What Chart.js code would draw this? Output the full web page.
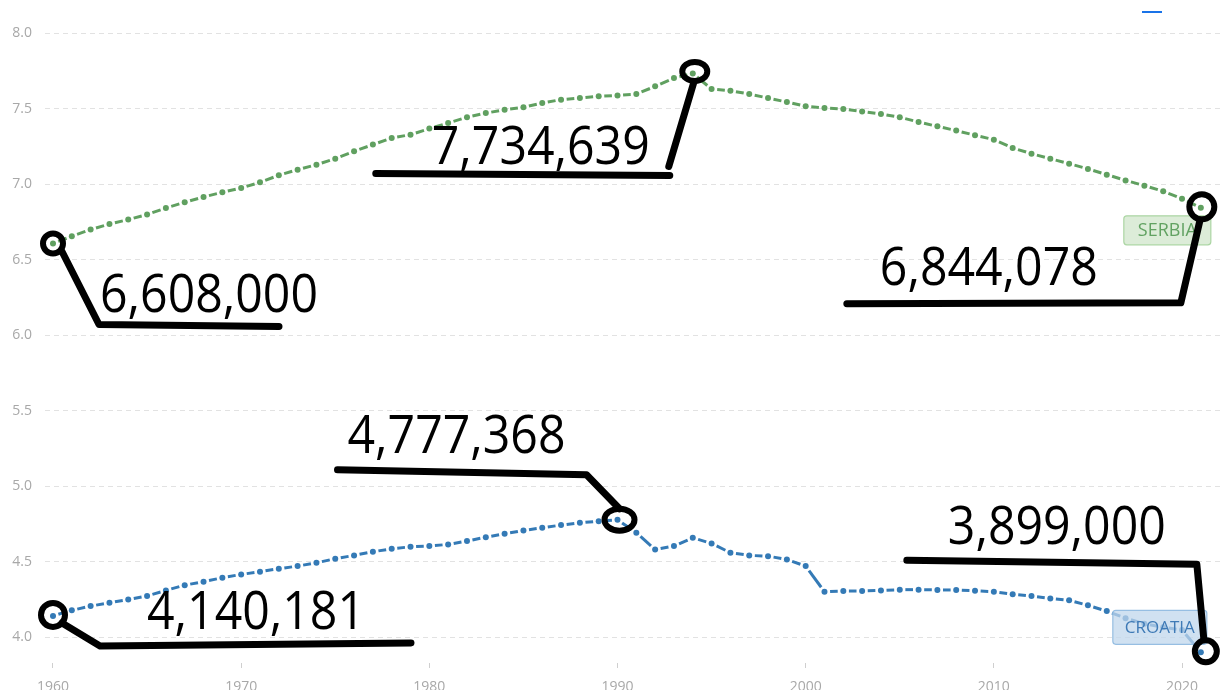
<!DOCTYPE html>
<html>
<head>
<meta charset="utf-8">
<script src="https://cdn.jsdelivr.net/npm/chart.js@4.4.0/dist/chart.umd.min.js"></script>
<style>
  html, body { margin: 0; padding: 0; background: #fff; }
  canvas { display: block; }
</style>
</head>
<body>
<canvas id="popChart" width="1223" height="690"></canvas>
<script>
// Population in millions, 1960-2021
const years = [
  1960, 1961, 1962, 1963, 1964, 1965, 1966, 1967, 1968, 1969,
  1970, 1971, 1972, 1973, 1974, 1975, 1976, 1977, 1978, 1979,
  1980, 1981, 1982, 1983, 1984, 1985, 1986, 1987, 1988, 1989,
  1990, 1991, 1992, 1993, 1994, 1995, 1996, 1997, 1998, 1999,
  2000, 2001, 2002, 2003, 2004, 2005, 2006, 2007, 2008, 2009,
  2010, 2011, 2012, 2013, 2014, 2015, 2016, 2017, 2018, 2019,
  2020, 2021
];

const serbia = [
  6.608, 6.656, 6.700, 6.737, 6.766, 6.800, 6.843, 6.881, 6.916, 6.947,
  6.976, 7.013, 7.060, 7.097, 7.130, 7.170, 7.219, 7.263, 7.307, 7.329,
  7.369, 7.406, 7.444, 7.472, 7.494, 7.510, 7.539, 7.561, 7.572, 7.583,
  7.589, 7.598, 7.649, 7.704, 7.734639, 7.631, 7.620, 7.598, 7.572, 7.545,
  7.517, 7.506, 7.499, 7.483, 7.466, 7.444, 7.413, 7.384, 7.356, 7.325,
  7.296, 7.241, 7.203, 7.170, 7.137, 7.102, 7.064, 7.026, 6.991, 6.954,
  6.905, 6.844078
];

const croatia = [
  4.140181, 4.177, 4.205, 4.227, 4.249, 4.272, 4.309, 4.344, 4.367, 4.393,
  4.415, 4.433, 4.453, 4.470, 4.492, 4.519, 4.541, 4.565, 4.585, 4.598,
  4.603, 4.614, 4.636, 4.662, 4.684, 4.706, 4.724, 4.742, 4.757, 4.768,
  4.777368, 4.691, 4.580, 4.603, 4.658, 4.620, 4.559, 4.541, 4.536, 4.514,
  4.470, 4.300, 4.305, 4.305, 4.309, 4.314, 4.314, 4.312, 4.312, 4.307,
  4.300, 4.283, 4.272, 4.256, 4.243, 4.210, 4.172, 4.125, 4.088, 4.065,
  4.047, 3.899
];

const seriesNames = ['SERBIA', 'CROATIA'];
const yTicks = [4.0, 4.5, 5.0, 5.5, 6.0, 6.5, 7.0, 7.5, 8.0];
const xTicks = [1960, 1970, 1980, 1990, 2000, 2010, 2020];

// hand-drawn callouts: which point, and the marker geometry relative to it
const callouts = [
  { ds: 0, year: 1960, ring: [0, 0, 10, 10], strokes: [[[9, 8], [46, 81], [226, 83]]], text: [47, 69] },
  { ds: 0, year: 1994, ring: [2, -2, 12.5, 9.5], strokes: [[[1, 9], [-24, 93]], [[-23, 102], [-317, 100]]], text: [-261, 91] },
  { ds: 0, year: 2021, ring: [1, -1, 12.5, 12.5], strokes: [[[-1, 13], [-20, 95], [-354, 96]]], text: [-321, 77] },
  { ds: 1, year: 1960, ring: [0, -1, 12, 12], strokes: [[[9, 7], [47, 30], [358, 27]]], text: [94, 13] },
  { ds: 1, year: 1990, ring: [2, 0, 15, 11], strokes: [[[2, -11], [-31, -45], [-280, -50]]], text: [-270, -67] },
  { ds: 1, year: 2021, ring: [5, -1, 11, 11], strokes: [[[3, -13], [-4, -88], [-294, -92]]], text: [-253, -108] }
];

const GAP = 5.6;

// one dash centred between every pair of points
function dashFor(ctx) {
  const L = Math.hypot(ctx.p1.x - ctx.p0.x, ctx.p1.y - ctx.p0.y);
  return [Math.max(L - 2 * GAP, 0), 2 * GAP];
}

function toPoints(values) {
  return years.map((y, i) => ({ x: y, y: values[i] }));
}

function roundRect(ctx, x, y, w, h, r) {
  ctx.beginPath();
  ctx.moveTo(x + r, y);
  ctx.lineTo(x + w - r, y);
  ctx.quadraticCurveTo(x + w, y, x + w, y + r);
  ctx.lineTo(x + w, y + h - r);
  ctx.quadraticCurveTo(x + w, y + h, x + w - r, y + h);
  ctx.lineTo(x + r, y + h);
  ctx.quadraticCurveTo(x, y + h, x, y + h - r);
  ctx.lineTo(x, y + r);
  ctx.quadraticCurveTo(x, y, x + r, y);
  ctx.closePath();
}

const annotatePlugin = {
  id: 'annotate',
  afterDatasetsDraw(chart) {
    const ctx = chart.ctx;
    const xs = chart.scales.x, ys = chart.scales.y;
    const last = years.length - 1;

    // end-of-line name tags
    const tags = [
      { ds: 0, box: [-77, 8, 87, 29], fill: 'rgba(208,230,203,0.75)', stroke: 'rgb(172,214,164)', color: 'rgb(98,162,98)', font: '18px "Open Sans"' },
      { ds: 1, box: [-88, -42, 94, 34], fill: 'rgba(192,215,236,0.75)', stroke: 'rgb(150,190,226)', color: 'rgb(62,122,182)', font: '17px "Open Sans"' }
    ];
    const vals = [serbia, croatia];
    ctx.save();
    tags.forEach(t => {
      const px = xs.getPixelForValue(years[last]);
      const py = ys.getPixelForValue(vals[t.ds][last]);
      const [bx, by, bw, bh] = t.box;
      roundRect(ctx, px + bx, py + by, bw, bh, 3);
      ctx.fillStyle = t.fill;
      ctx.fill();
      ctx.lineWidth = 1.2;
      ctx.strokeStyle = t.stroke;
      ctx.stroke();
      ctx.fillStyle = t.color;
      ctx.font = t.font;
      ctx.textAlign = 'center';
      ctx.textBaseline = 'middle';
      ctx.fillText(seriesNames[t.ds], px + bx + bw / 2, py + by + bh / 2 + 1);
    });

    // callouts
    ctx.strokeStyle = '#000';
    ctx.fillStyle = '#000';
    ctx.lineCap = 'round';
    ctx.lineJoin = 'round';
    callouts.forEach(c => {
      const i = years.indexOf(c.year);
      const v = vals[c.ds][i];
      const px = xs.getPixelForValue(c.year);
      const py = ys.getPixelForValue(v);
      const [rx0, ry0, rx, ry] = c.ring;
      ctx.lineWidth = 6;
      ctx.beginPath();
      ctx.ellipse(px + rx0, py + ry0, rx, ry, 0, 0, Math.PI * 2);
      ctx.stroke();
      ctx.lineWidth = 7;
      c.strokes.forEach(s => {
        ctx.beginPath();
        s.forEach(([dx, dy], k) => {
          if (k === 0) ctx.moveTo(px + dx, py + dy);
          else ctx.lineTo(px + dx, py + dy);
        });
        ctx.stroke();
      });
      ctx.font = '53px "Open Sans"';
      ctx.textAlign = 'left';
      ctx.textBaseline = 'alphabetic';
      const label = Math.round(v * 1e6).toLocaleString('en-US');
      ctx.fillText(label, px + c.text[0], py + c.text[1], 218);
    });

    // small blue mark at the top
    ctx.lineCap = 'butt';
    ctx.strokeStyle = '#1a73e8';
    ctx.lineWidth = 2;
    ctx.beginPath();
    ctx.moveTo(1142, 12);
    ctx.lineTo(1162, 12);
    ctx.stroke();
    ctx.restore();
  }
};

function makeDataset(values, color) {
  return {
    data: toPoints(values),
    borderColor: color,
    backgroundColor: color,
    borderWidth: 3,
    pointRadius: 3,
    pointBorderWidth: 0,
    pointBackgroundColor: color,
    tension: 0,
    clip: false,
    segment: {
      borderDash: ctx => dashFor(ctx),
      borderDashOffset: -GAP
    }
  };
}

const ctx = document.getElementById('popChart').getContext('2d');
new Chart(ctx, {
  type: 'line',
  data: {
    datasets: [
      makeDataset(serbia, 'rgb(96,160,96)'),
      makeDataset(croatia, 'rgb(52,122,182)')
    ]
  },
  options: {
    responsive: false,
    animation: false,
    layout: { padding: 0, autoPadding: false },
    plugins: {
      legend: { display: false },
      tooltip: { enabled: false }
    },
    scales: {
      x: {
        type: 'linear',
        min: 1959.575,
        max: 2022.178,
        afterBuildTicks: axis => { axis.ticks = xTicks.map(v => ({ value: v })); },
        afterFit: axis => { axis.height = 27; },
        border: { display: false },
        grid: {
          drawOnChartArea: false,
          drawTicks: true,
          tickLength: 5,
          tickColor: '#cfcfcf'
        },
        ticks: {
          padding: 11,
          color: '#a8a8a8',
          font: { family: 'Open Sans', size: 14 },
          maxRotation: 0,
          callback: v => String(v)
        }
      },
      y: {
        min: 3.828,
        max: 8.0795,
        afterBuildTicks: axis => { axis.ticks = yTicks.map(v => ({ value: v })); },
        afterFit: axis => { axis.width = 45; },
        border: { display: false, dash: [5, 4] },
        grid: {
          color: '#e2e2e2',
          lineWidth: 1,
          drawTicks: false
        },
        ticks: {
          padding: 13,
          color: '#a8a8a8',
          font: { family: 'Open Sans', size: 14 },
          callback: v => v.toFixed(1)
        }
      }
    }
  },
  plugins: [annotatePlugin]
});
</script>
</body>
</html>
